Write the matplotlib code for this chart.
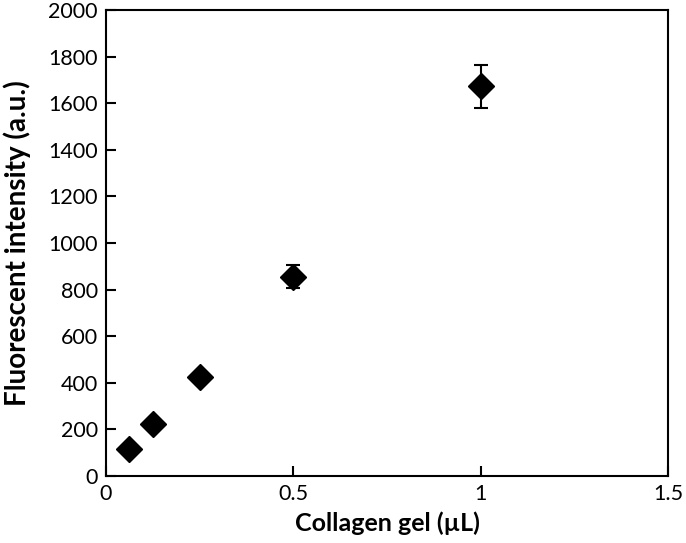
import matplotlib
matplotlib.use("Agg")
import matplotlib.pyplot as plt

# collagen gel volume (uL) vs fluorescent intensity
volume = [0.0625, 0.125, 0.25, 0.5, 1.0]
intensity = [116, 223, 424, 856, 1672]
error = [10, 12, 18, 48, 92]

x_ticks = [0, 0.5, 1, 1.5]
x_tick_labels = ["0", "0.5", "1", "1.5"]
y_ticks = [0, 200, 400, 600, 800, 1000, 1200, 1400, 1600, 1800, 2000]

plt.rcParams["font.family"] = ["Lato", "DejaVu Sans"]

fig = plt.figure(figsize=(6.86, 5.43), dpi=100)
ax = fig.add_axes([0.1545, 0.1234, 0.8195, 0.8582])

ax.errorbar(volume, intensity, yerr=error, fmt="D", color="black",
            markersize=13, ecolor="black", elinewidth=1.5, capsize=5, capthick=1.5)

ax.set_xlim(0, 1.5)
ax.set_ylim(0, 2000)
ax.set_xticks(x_ticks)
ax.set_xticklabels(x_tick_labels)
ax.set_yticks(y_ticks)
ax.tick_params(direction="in", length=7, width=1.5, labelsize=15.5, pad=6)
for spine in ax.spines.values():
    spine.set_linewidth(1.5)

ax.set_xlabel("Collagen gel (µL)", fontsize=18, fontweight="bold", labelpad=5)
ax.set_ylabel("Fluorescent intensity (a.u.)", fontsize=20, fontweight="bold", labelpad=12)

fig.savefig("out.png", dpi=100)
plt.close(fig)
